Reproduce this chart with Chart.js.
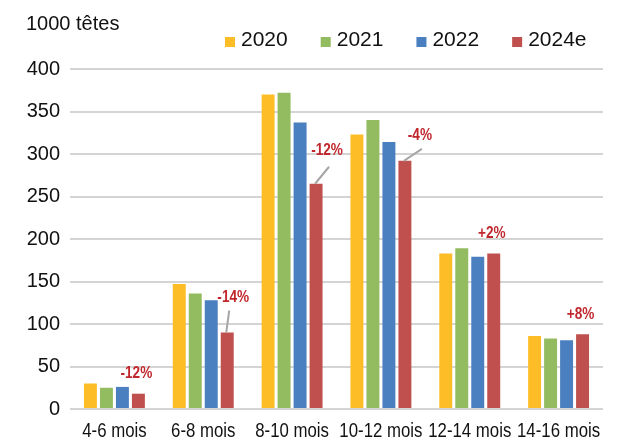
<!DOCTYPE html>
<html>
<head>
<meta charset="utf-8">
<script src="https://cdn.jsdelivr.net/npm/chart.js@4.4.1/dist/chart.umd.min.js"></script>
<style>
  html, body { margin: 0; padding: 0; background: #fff; }
  #wrap { width: 622px; height: 443px; }
</style>
</head>
<body>
<div id="wrap"><canvas id="chart" width="622" height="443"></canvas></div>
<script>
// Values (1000 heads)
const categories = ['4-6 mois', '6-8 mois', '8-10 mois', '10-12 mois', '12-14 mois', '14-16 mois'];
const seriesNames = ['2020', '2021', '2022', '2024e'];
const values2020 = [30, 147, 370, 323, 183, 86];
const values2021 = [25, 136, 372, 340, 189, 83];
const values2022 = [26, 128, 337, 314, 179, 81];
const values2024e = [18, 90, 265, 292, 183, 88];
const changeLabels = ['-12%', '-14%', '-12%', '-4%', '+2%', '+8%'];
const yTicks = [0, 50, 100, 150, 200, 250, 300, 350, 400];

const colors = ['#FDBD27', '#93BB60', '#4A7FC0', '#C0504D'];
const textColor = '#111';
const wide = "'Liberation Sans', Arial, sans-serif";

// draw text squeezed horizontally (no narrow font installed)
function narrowText(ctx, text, x, y, squeeze) {
    ctx.save();
    ctx.translate(x, y);
    ctx.scale(squeeze, 1);
    ctx.fillText(text, 0, 0);
    ctx.restore();
}

// Red change labels above the 2024e bars, some with a grey leader line
const changeLabelPlugin = {
    id: 'changeLabels',
    // offset of label centre from the bar top, and leader end (or null)
    place: [
        {dx: -2, dy: -20, lead: null},
        {dx: 6, dy: -35, lead: [2, -22]},
        {dx: 11, dy: -33, lead: [13, -17]},
        {dx: 15, dy: -25, lead: [17, -12]},
        {dx: -2, dy: -20, lead: null},
        {dx: -2, dy: -20, lead: null}
    ],
    afterDatasetsDraw(chart) {
        const ctx = chart.ctx;
        const meta = chart.getDatasetMeta(3);
        ctx.save();
        meta.data.forEach((bar, i) => {
            const p = this.place[i];
            if (p.lead) {
                ctx.strokeStyle = '#A6A6A6';
                ctx.lineWidth = 2;
                ctx.beginPath();
                ctx.moveTo(bar.x - 1, bar.y);
                ctx.lineTo(bar.x + p.lead[0], bar.y + p.lead[1]);
                ctx.stroke();
            }
            ctx.fillStyle = '#C0272D';
            ctx.font = 'bold 17px ' + wide;
            ctx.textAlign = 'center';
            ctx.textBaseline = 'middle';
            narrowText(ctx, changeLabels[i], bar.x + p.dx, bar.y + p.dy, 0.8);
        });
        ctx.restore();
    }
};

// Category labels under the axis, squeezed like the original font
const xLabelPlugin = {
    id: 'xLabels',
    afterDraw(chart) {
        const ctx = chart.ctx;
        const xs = chart.scales.x;
        ctx.save();
        ctx.fillStyle = textColor;
        ctx.font = '20px ' + wide;
        ctx.textAlign = 'center';
        ctx.textBaseline = 'middle';
        chart.data.labels.forEach((lab, i) => {
            narrowText(ctx, lab, xs.getPixelForTick(i), chart.chartArea.bottom + 22, 0.84);
        });
        ctx.restore();
    }
};

// Legend drawn by hand so the spacing matches the original
const legendPlugin = {
    id: 'sideLegend',
    afterDraw(chart) {
        const ctx = chart.ctx;
        let x = 225;
        const y = 42;
        ctx.save();
        ctx.font = '21px ' + wide;
        ctx.textBaseline = 'middle';
        ctx.textAlign = 'left';
        chart.data.datasets.forEach((ds) => {
            ctx.fillStyle = ds.backgroundColor;
            ctx.fillRect(x, y - 5, 10, 10);
            ctx.fillStyle = textColor;
            ctx.fillText(ds.label, x + 16, y - 2);
            x += 16 + ctx.measureText(ds.label).width + 33;
        });
        ctx.restore();
    }
};

const allValues = [values2020, values2021, values2022, values2024e];

new Chart(document.getElementById('chart'), {
    type: 'bar',
    data: {
        labels: categories,
        datasets: seriesNames.map((name, i) => ({
            label: name,
            data: allValues[i],
            backgroundColor: colors[i],
            categoryPercentage: 0.72,
            barPercentage: 0.81
        }))
    },
    options: {
        responsive: false,
        animation: false,
        layout: { padding: { left: 26, right: 19, top: 0, bottom: 26 } },
        plugins: {
            legend: { display: false },
            tooltip: { enabled: false },
            title: {
                display: true,
                text: '1000 têtes',
                align: 'start',
                color: textColor,
                font: { family: wide, size: 20, weight: 'normal' },
                padding: { top: 12, bottom: 33 }
            }
        },
        scales: {
            x: {
                grid: { display: false },
                border: { display: false },
                ticks: { display: false }
            },
            y: {
                min: 0,
                max: 400,
                afterBuildTicks: (axis) => { axis.ticks = yTicks.map(v => ({value: v})); },
                afterFit: (axis) => { axis.width = 44; },
                grid: { color: '#D4D4D4', lineWidth: 2, drawTicks: false },
                border: { display: false },
                ticks: {
                    color: textColor,
                    font: { family: wide, size: 20 },
                    padding: 10
                }
            }
        }
    },
    plugins: [changeLabelPlugin, xLabelPlugin, legendPlugin]
});
</script>
</body>
</html>
